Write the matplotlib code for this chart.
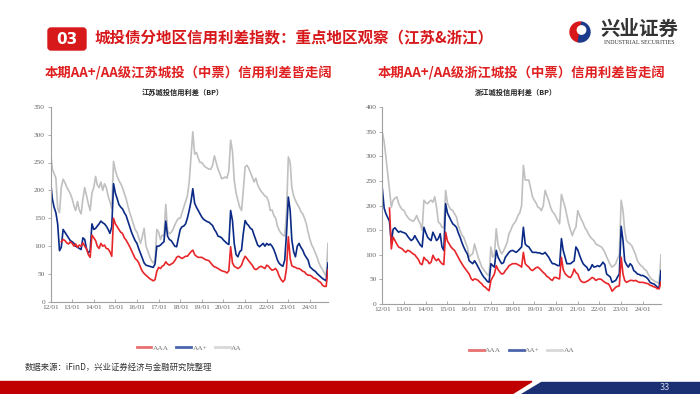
import numpy as np
import pandas as pd
import matplotlib
matplotlib.use("Agg")
import matplotlib.pyplot as plt
from matplotlib.patches import Polygon, FancyBboxPatch, Wedge, Circle
from matplotlib.lines import Line2D

plt.rcParams['font.family'] = ['Noto Sans CJK SC', 'DejaVu Sans']

# --- DATOS (lectura mensual aproximada del gráfico, 2012/01 - 2024/11) ---
fechas = pd.date_range('2012-01-01', periods=155, freq='MS')
nan = np.nan

# Jiangsu
js_aaa = [nan, nan, nan, nan, nan, nan, 108, 112, 110, 106, 104, 108,
          105, 100, 104, 98, 102, 100, 106, 100, 95, 85, 80, 120,
          115, 110, 100, 96, 105, 100, 102, 96, 95, 90, 82, 150,
          140, 135, 130, 125, 123, 115, 111, 105, 99, 92, 85, 78,
          75, 70, 62, 55, 51, 48, 45, 42, 40, 38, 40, 55,
          62, 60, 64, 66, 72, 68, 66, 68, 70, 74, 80, 82,
          80, 78, 80, 82, 82, 86, 90, 93, 85, 82, 80, 80,
          80, 78, 76, 75, 74, 70, 66, 63, 62, 60, 58, 56,
          55, 54, 52, 56, 99, 70, 64, 62, 60, 62, 66, 75,
          82, 78, 74, 70, 66, 60, 58, 60, 63, 64, 62, 60,
          66, 64, 60, 57, 58, 60, 55, 46, 40, 36, 40, 60,
          117, 78, 65, 63, 62, 60, 60, 58, 55, 54, 50, 48,
          48, 46, 43, 42, 40, 37, 35, 30, 28, 28, 58]
js_aap = [218, 185, 170, 160, 140, 92, 98, 130, 125, 120, 115, 110,
          108, 105, 100, 98, 96, 94, 115, 112, 95, 88, 92, 140,
          130, 132, 136, 140, 145, 142, 140, 136, 130, 123, 135, 212,
          195, 185, 175, 170, 167, 160, 155, 145, 135, 125, 117, 110,
          105, 95, 87, 78, 70, 66, 65, 64, 63, 62, 68, 100,
          100, 102, 105, 108, 145, 118, 112, 110, 105, 100, 99, 115,
          130, 135, 136, 140, 150, 164, 180, 203, 177, 170, 164, 158,
          152, 148, 146, 144, 143, 140, 137, 130, 125, 118, 117, 115,
          111, 108, 105, 103, 164, 146, 105, 85, 81, 90, 93, 123,
          146, 140, 137, 132, 130, 120, 111, 102, 99, 102, 105, 100,
          105, 102, 104, 100, 94, 85, 75, 69, 66, 64, 75, 123,
          188, 164, 111, 90, 81, 100, 105, 98, 93, 85, 80, 75,
          63, 60, 57, 55, 51, 48, 45, 42, 40, 38, 70]
js_aa = [270, 238, 230, 222, 168, 160, 205, 220, 214, 206, 200, 194,
         185, 172, 164, 180, 165, 158, 185, 205, 190, 176, 164, 195,
         205, 225, 210, 205, 215, 200, 212, 205, 190, 180, 168, 252,
         235, 225, 218, 212, 205, 195, 185, 172, 160, 150, 140, 130,
         125, 115, 105, 118, 132, 100, 92, 82, 74, 70, 75, 130,
         125, 112, 120, 118, 175, 128, 122, 125, 130, 138, 145, 150,
         150, 160, 170, 180, 190, 215, 260, 305, 265, 268, 258, 250,
         250, 245, 242, 240, 238, 238, 245, 262, 250, 238, 230, 221,
         222, 224, 222, 235, 290, 270, 218, 195, 182, 170, 164, 200,
         242, 245, 240, 232, 224, 215, 222, 210, 203, 198, 194, 190,
         188, 180, 164, 165, 155, 150, 136, 128, 123, 120, 118, 160,
         260, 250, 205, 190, 182, 175, 170, 162, 158, 150, 140, 125,
         112, 102, 96, 88, 80, 70, 63, 58, 52, 46, 105]

# Zhejiang
zj_aaa = [nan, nan, nan, nan, 195, 112, 136, 129, 122, 116, 114, 112,
          108, 105, 109, 108, 105, 102, 100, 95, 90, 82, 80, 95,
          90, 88, 82, 85, 99, 92, 88, 92, 86, 82, 80, 146,
          128, 122, 116, 112, 109, 102, 95, 88, 82, 76, 71, 66,
          61, 52, 48, 51, 50, 48, 44, 41, 36, 34, 30, 27,
          48, 55, 61, 78, 70, 65, 61, 62, 68, 72, 78, 80,
          82, 82, 82, 80, 78, 75, 105, 82, 78, 75, 70, 68,
          71, 74, 75, 72, 68, 64, 61, 56, 54, 50, 48, 54,
          54, 52, 51, 95, 70, 62, 58, 55, 54, 60, 71, 64,
          61, 51, 46, 44, 44, 46, 48, 51, 54, 52, 48, 50,
          51, 50, 47, 44, 42, 41, 35, 26, 30, 34, 36, 37,
          95, 61, 48, 44, 46, 48, 48, 47, 48, 46, 44, 44,
          44, 43, 42, 41, 38, 37, 35, 34, 31, 31, 44]
zj_aap = [235, 195, 184, 176, 168, 125, 152, 155, 150, 146, 148, 146,
          145, 143, 138, 133, 129, 132, 139, 132, 126, 120, 116, 156,
          145, 136, 132, 129, 146, 138, 129, 133, 143, 116, 109, 204,
          185, 177, 170, 163, 160, 156, 145, 136, 125, 116, 108, 102,
          88, 85, 82, 88, 82, 75, 68, 61, 55, 51, 46, 44,
          82, 78, 75, 109, 95, 88, 82, 84, 95, 100, 105, 108,
          109, 107, 105, 108, 112, 116, 156, 122, 118, 116, 110, 105,
          105, 105, 104, 104, 102, 102, 105, 100, 95, 88, 82, 82,
          80, 78, 78, 133, 109, 95, 82, 82, 82, 85, 88, 116,
          110, 99, 90, 82, 78, 75, 68, 72, 80, 75, 76, 78,
          76, 80, 85, 80, 61, 58, 55, 44, 46, 48, 55, 61,
          158, 129, 88, 80, 75, 82, 78, 68, 65, 61, 60, 58,
          58, 56, 54, 50, 44, 42, 41, 38, 34, 34, 68]
zj_aa = [350, 330, 300, 265, 231, 197, 211, 215, 218, 205, 197, 192,
         190, 182, 177, 172, 170, 168, 172, 180, 170, 163, 150, 211,
         206, 204, 208, 211, 207, 218, 197, 167, 163, 156, 155, 231,
         205, 197, 192, 190, 183, 177, 160, 150, 140, 136, 125, 116,
         95, 100, 102, 122, 108, 95, 85, 75, 70, 65, 60, 58,
         116, 95, 100, 153, 120, 109, 102, 108, 116, 125, 143, 150,
         160, 165, 170, 180, 185, 200, 282, 252, 252, 252, 235, 218,
         211, 205, 197, 195, 190, 200, 231, 220, 210, 197, 188, 184,
         177, 170, 163, 223, 210, 197, 180, 163, 150, 139, 150, 156,
         190, 180, 172, 165, 155, 150, 142, 136, 132, 129, 122, 120,
         118, 116, 112, 105, 96, 88, 80, 75, 78, 82, 92, 100,
         211, 190, 150, 129, 125, 122, 118, 109, 100, 88, 82, 78,
         75, 70, 68, 60, 54, 50, 48, 45, 44, 42, 100]

anios = list(range(2012, 2025))
etiquetas_x = [f'{a % 100:02d}/01' for a in anios]

ROJO = '#E8262A'
AZUL = '#0A2A86'
GRIS = '#C0C0C0'

W, H = 700, 394
fig = plt.figure(figsize=(W / 100, H / 100), dpi=100)

# fondo en coordenadas de píxel para los adornos de la página
fondo = fig.add_axes([0, 0, 1, 1])
fondo.set_xlim(0, W)
fondo.set_ylim(H, 0)
fondo.axis('off')

# --- ENCABEZADO ---
fondo.add_patch(FancyBboxPatch((48, 28), 38, 22, boxstyle='round,pad=0,rounding_size=3', color='#D7191C'))
fondo.text(67, 39, '03', color='white', fontsize=11, fontweight='bold', ha='center', va='center',
           family='DejaVu Sans')
fondo.text(95, 38.5, '城投债分地区信用利差指数：重点地区观察（江苏&浙江）', color='#D7191C',
           fontsize=11.2, fontweight='bold', ha='left', va='center')

# logo
fondo.add_patch(Wedge((580, 32), 10, 100, 280, color='#D7191C'))
fondo.add_patch(Wedge((580, 32), 10, 280, 100, color='#1B3A8A'))
fondo.add_patch(Circle((581.5, 30), 4.2, color='white'))
fondo.text(639, 29, '兴业证券', color='#333333', fontsize=14, fontweight='bold', ha='center', va='center')
fondo.text(639, 42.5, 'INDUSTRIAL SECURITIES', color='#333333', fontsize=4.3, ha='center', va='center',
           family='Liberation Serif')

# subtítulos
fondo.text(189, 73, '本期AA+/AA级江苏城投（中票）信用利差皆走阔', color='#E02020', fontsize=9.6,
           fontweight='bold', ha='center', va='center')
fondo.text(522, 73, '本期AA+/AA级浙江城投（中票）信用利差皆走阔', color='#E02020', fontsize=9.6,
           fontweight='bold', ha='center', va='center')


def grafica(caja, titulo, aaa, aap, aa, ymax, centro_titulo):
    x0, y_top, x1, y_bot = caja
    ax = fig.add_axes([x0 / W, 1 - y_bot / H, (x1 - x0) / W, (y_bot - y_top) / H])
    ax.plot(fechas, aa, color=GRIS, lw=1.2)
    ax.plot(fechas, aap, color=AZUL, lw=1.2)
    ax.plot(fechas, aaa, color=ROJO, lw=1.2)
    ax.set_xlim(fechas[0], fechas[-1])
    ax.set_ylim(0, ymax)
    ax.set_yticks(np.arange(0, ymax + 1, 50))
    ax.set_xticks([pd.Timestamp(f'{a}-01-01') for a in anios])
    ax.set_xticklabels(etiquetas_x)
    for s in ['top', 'right']:
        ax.spines[s].set_visible(False)
    for s in ['left', 'bottom']:
        ax.spines[s].set_color('#A0A0A0')
        ax.spines[s].set_linewidth(0.8)
    ax.tick_params(axis='both', labelsize=5.3, colors='#A0A0A0', labelcolor='#666666', length=2, width=0.6,
                   pad=2)
    ax.tick_params(axis='x', direction='in')
    for t in ax.get_xticklabels() + ax.get_yticklabels():
        t.set_family('Liberation Serif')
    fondo.text(centro_titulo, 92, titulo, fontsize=5.2, fontweight='bold', color='#222222',
               ha='center', va='center')
    manejadores = [Line2D([], [], color='#E87070', lw=2),
                   Line2D([], [], color='#4A64AC', lw=2),
                   Line2D([], [], color='#D8D8D8', lw=2)]
    ax.legend(manejadores, ['AAA', 'AA+', 'AA'], loc='center', bbox_to_anchor=(0.5, -0.235),
              ncol=3, frameon=False, handlelength=2.0, handletextpad=0.2, columnspacing=1.0,
              labelcolor='#777777', prop={'family': 'Liberation Serif', 'size': 5.3})
    return ax


grafica((50.5, 106.7, 328, 302), '江苏城投信用利差（BP）', js_aaa, js_aap, js_aa, 350, 183)
grafica((382.3, 107.3, 661, 304), '浙江城投信用利差（BP）', zj_aaa, zj_aap, zj_aa, 400, 516)

# fuente
fondo.text(25, 367.5, '数据来源：iFinD，兴业证券经济与金融研究院整理', fontsize=6, color='#333333',
           ha='left', va='center')

# --- PIE DE PÁGINA ---
fondo.add_patch(Polygon([(0, 381.5), (532, 381.5), (512, 394), (0, 394)], closed=True, color='#C00000'))
fondo.add_patch(Polygon([(541, 381.5), (700, 381.5), (700, 394), (521, 394)], closed=True, color='#1B2F73'))
fondo.text(665, 388, '33', fontsize=6.5, color='#D0D8E8', ha='center', va='center')

fig.savefig('out.png', dpi=100)
